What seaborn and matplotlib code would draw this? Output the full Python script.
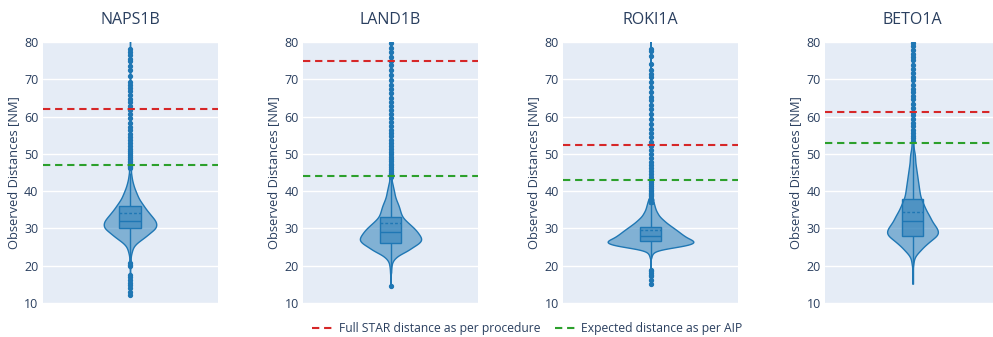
import numpy as np
import pandas as pd
import seaborn as sns
import matplotlib.pyplot as plt
from matplotlib.lines import Line2D

routes = ["NAPS1B", "LAND1B", "ROKI1A", "BETO1A"]
star_full = [62.0, 74.8, 52.3, 61.2]
aip_expected = [47.0, 44.1, 43.0, 53.0]

# core of each distribution: distance bins (NM) and number of flights per bin
naps_bins = [21, 22, 23, 24, 25, 26, 27, 28, 29, 30, 31, 32, 33, 34, 35, 36, 37,
             38, 39, 40, 41, 42, 43, 44, 45]
naps_counts = [1, 1, 2, 4, 6, 12, 22, 32, 40, 50, 52, 50, 44, 38, 32, 27, 22,
               17, 14, 11, 8, 6, 4, 3, 2]
naps_outliers = [46.1, 46.4, 46.7, 47.0, 47.4, 47.8, 48.2, 48.6, 49.1, 49.6, 50.2,
                 50.8, 51.4, 52.1, 52.8, 53.6, 54.5, 55.4, 56.3, 57.3, 58.4, 59.5,
                 60.6, 61.8, 62.9, 63.8, 64.6, 65.7, 66.8, 67.7, 68.5, 69.2, 70.9,
                 72.5, 73.6, 74.8, 75.5, 76.4, 77.3, 78.0, 81.0,
                 20.6, 20.3, 20.0, 17.6, 17.0, 16.3, 15.4, 14.7, 14.0, 13.0, 12.2]

land_bins = [18, 19, 20, 21, 22, 23, 24, 25, 26, 27, 28, 29, 30, 31, 32, 33, 34,
             35, 36, 37, 38, 39, 40, 41, 42]
land_counts = [1, 1, 2, 3, 8, 17, 33, 42, 55, 61, 57, 52, 46, 38, 30, 23, 20,
               18, 16, 13, 10, 8, 7, 5, 4]
land_outliers = [43.1, 43.4, 43.8, 44.2, 44.6, 45.0, 45.5, 45.9, 46.4, 46.9, 47.4,
                 48.0, 48.6, 49.2, 49.9, 50.6, 51.3, 52.1, 52.9, 53.8, 54.7, 55.6,
                 56.5, 57.5, 58.5, 59.5, 60.6, 61.7, 62.8, 63.9, 65.1, 66.3, 67.4,
                 68.6, 69.9, 71.2, 72.5, 73.7, 74.9, 76.1, 77.3, 78.5, 79.6, 82.0,
                 14.5]

roki_bins = [22, 22.5, 23, 23.5, 24, 24.5, 25, 25.5, 26, 26.5, 27, 27.5, 28, 28.5,
             29, 29.5, 30, 30.5, 31, 31.5, 32, 32.5, 33, 33.5, 34, 34.5, 35, 35.5,
             36, 36.5, 37, 37.5, 38]
roki_counts = [1, 2, 3, 5, 10, 25, 50, 72, 84, 86, 80, 70, 66, 60, 56, 51, 46, 41,
               36, 31, 27, 23, 19, 16, 14, 12, 10, 9, 8, 7, 6, 5, 4]
roki_outliers = [38.6, 38.9, 39.2, 39.6, 40.0, 40.4, 40.9, 41.4, 41.9, 42.5, 43.1,
                 43.8, 44.5, 45.3, 46.1, 47.0, 47.9, 48.9, 49.9, 51.0, 52.1, 53.2,
                 54.4, 55.6, 56.8, 58.0, 59.3, 60.6, 61.9, 63.2, 64.5, 65.3, 66.7,
                 68.0, 69.4, 70.6, 71.5, 72.6, 74.0, 76.2, 77.5, 78.2, 81.0,
                 18.8, 18.5, 18.1, 17.6, 17.2, 16.3, 15.0]

beto_bins = [20, 21, 22, 23, 24, 25, 26, 27, 28, 29, 30, 31, 32, 33, 34, 35, 36,
             37, 38, 39, 40, 41, 42, 43, 44, 45, 46, 47, 48, 49, 50]
beto_counts = [1, 2, 3, 7, 14, 20, 28, 36, 46, 49, 46, 41, 36, 33, 29, 25, 22,
               19, 16, 14, 13, 12, 11, 10, 9, 8, 7, 6, 5, 5, 4]
beto_outliers = [50.6, 50.9, 51.3, 51.8, 52.3, 52.9, 53.5, 54.2, 54.9, 55.7, 56.5,
                 57.4, 58.3, 59.3, 60.3, 61.3, 62.4, 63.5, 64.6, 65.6, 66.5, 67.5,
                 68.6, 69.7, 70.6, 71.6, 72.8, 73.9, 75.2, 76.0, 76.8, 77.9, 79.0,
                 79.8, 82.0, 15.2]

parts = [(naps_bins, naps_counts, naps_outliers),
         (land_bins, land_counts, land_outliers),
         (roki_bins, roki_counts, roki_outliers),
         (beto_bins, beto_counts, beto_outliers)]
frames = []
for route, (bins, counts, outl) in zip(routes, parts):
    vals = np.concatenate([np.repeat(bins, counts), outl])
    frames.append(pd.DataFrame({"route": route, "distance": vals}))
df = pd.concat(frames, ignore_index=True)

sns.set_theme(style="darkgrid")
plt.rcParams["font.family"] = ["Open Sans", "DejaVu Sans"]

blue = "#1f77b4"
blue_fill = (31 / 255, 119 / 255, 180 / 255, 0.5)
red = "#d62728"
green = "#2ca02c"
txt = "#2a3f5f"
dash = (0, (3.5, 2.3))

fig = plt.figure(figsize=(9.93, 3.37), dpi=100)
lefts = [42.5, 303, 563, 825]
violin_w = [0.30, 0.35, 0.49, 0.29]

for i, route in enumerate(routes):
    ax = fig.add_axes([lefts[i] / 993, 34 / 337, 175 / 993, 261 / 337])
    sub = df[df["route"] == route]
    sns.violinplot(data=sub, y="distance", ax=ax, cut=0, inner=None,
                   bw_adjust=0.28, gridsize=400, width=violin_w[i],
                   color=blue, saturation=1, linecolor=blue, linewidth=1)
    for c in ax.collections:
        c.set_facecolor(blue_fill)
    sns.boxplot(data=sub, y="distance", ax=ax, width=0.125, whis=1.5,
                color=blue, saturation=1, linecolor=blue, linewidth=1,
                showcaps=False, showmeans=True, meanline=True,
                meanprops=dict(color=blue, linestyle=(0, (2, 1.5)), linewidth=1),
                flierprops=dict(marker="o", markerfacecolor=blue,
                                markeredgecolor=blue, markersize=2.8))
    for p in ax.patches:
        p.set_facecolor(blue_fill)
    ax.axhline(star_full[i], color=red, ls=dash, lw=1.5)
    ax.axhline(aip_expected[i], color=green, ls=dash, lw=1.5)

    ax.set_xlim(-0.5, 0.5)
    ax.set_ylim(10, 80)
    ax.set_yticks(range(10, 81, 10))
    ax.set_xticks([])
    ax.set_xlabel("")
    ax.set_facecolor("#E5ECF6")
    ax.grid(True, axis="y", color="white", lw=1)
    for s in ax.spines.values():
        s.set_visible(False)
    ax.tick_params(axis="y", length=0, pad=3, labelsize=9, labelcolor=txt)
    ax.set_ylabel("Observed Distances [NM]", fontsize=9.3, color=txt, labelpad=3)
    ax.set_title(route, fontsize=11.5, color=txt, pad=13)

handles = [Line2D([], [], color=red, ls=dash, lw=1.5),
           Line2D([], [], color=green, ls=dash, lw=1.5)]
fig.legend(handles, ["Full STAR distance as per procedure",
                     "Expected distance as per AIP"],
           loc="center", bbox_to_anchor=(0.531, 0.025), ncol=2, frameon=False,
           fontsize=8.7, handlelength=1.8, handletextpad=0.4, columnspacing=1.2,
           labelcolor=txt)

plt.savefig("out.png", dpi=100)
